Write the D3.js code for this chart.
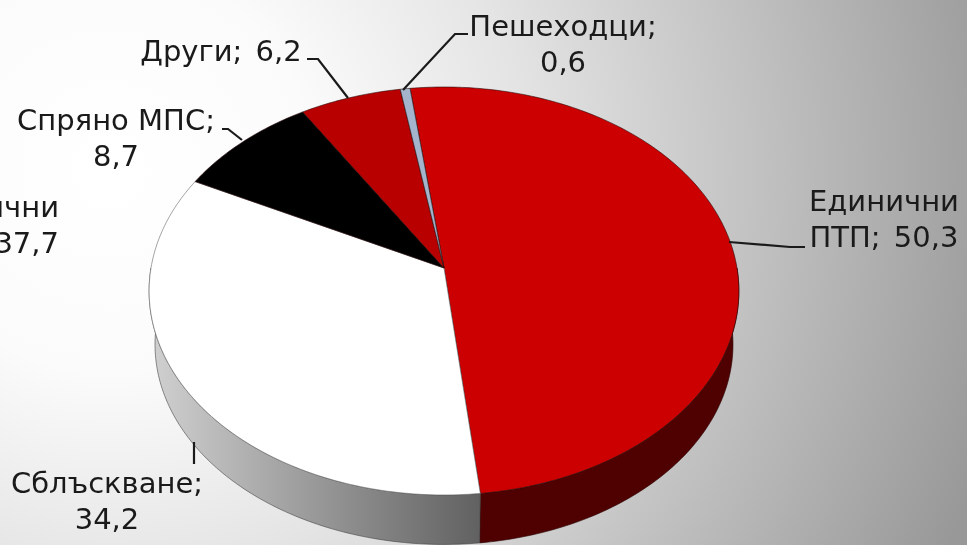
<!DOCTYPE html>
<html><head><meta charset="utf-8">
<script src="https://cdn.jsdelivr.net/npm/d3@7/dist/d3.min.js"></script>
<style>html,body{margin:0;padding:0;overflow:hidden;background:#fff}svg{display:block}text{filter:blur(.35px)}</style>
</head><body><div id="c"></div>
<script>
// data
const categories = ["Единични ПТП","Сблъскване","Спряно МПС","Други","Пешеходци"];
const values = [50.3,34.2,8.7,6.2,0.6];
const topColors = ["#cc0000","#ffffff","#000000","#b80000","#a3b4cc"];
const labelLines = [["Единични","ПТП; 50,3"],["Сблъскване;","34,2"],["Спряно МПС;","8,7"],["Други; 6,2"],["Пешеходци;","0,6"]];
const croppedLabel = ["ични","37,7"];

// layout
const W=967,H=545;
const labelAnchors=[[884,211],[107,493],[116,130],[221,61],[563,36]];
const leaders=[
 [[729,242],[790,247],[805,247]],
 [[194,442],[194,464]],
 [[242,140],[228,129],[222,129]],
 [[348,98],[318,59],[307,59]],
 [[403,90],[455,34],[468,34]]
];
const k=0.1127, Ax=293, Ay=201.4, apex=[444,268];
const lowerScale=0.98, lowerY=322;
const startDeg=-7.4;

const svg=d3.select("#c").append("svg").attr("width",W).attr("height",H).attr("font-family","'DejaVu Sans',sans-serif");
const defs=svg.append("defs");
const bg=defs.append("radialGradient").attr("id","bg").attr("gradientUnits","userSpaceOnUse")
 .attr("cx",110).attr("cy",170).attr("r",920);
[[0,"#ffffff"],[0.22,"#fbfbfb"],[0.45,"#e4e4e4"],[0.7,"#c2c2c2"],[1,"#989898"]].forEach(s=>bg.append("stop").attr("offset",s[0]).attr("stop-color",s[1]));
const sideG=defs.append("linearGradient").attr("id","side").attr("gradientUnits","userSpaceOnUse")
 .attr("x1",155).attr("x2",483).attr("y1",0).attr("y2",0);
sideG.append("stop").attr("offset",0).attr("stop-color","#cfcfcf");
sideG.append("stop").attr("offset",1).attr("stop-color","#606060");

svg.append("rect").attr("width",W).attr("height",H).attr("fill","url(#bg)");

const pie=d3.pie().sort(null).value(d=>d)
 .startAngle(startDeg*Math.PI/180).endAngle((startDeg+360)*Math.PI/180);
const arcs=pie(values);

const project=(t,s=1,y0=apex[1])=>{
 const w=1+k*Math.cos(t);
 return [apex[0]+s*Ax*Math.sin(t)/w, y0-s*Ay*Math.cos(t)/w];
};
const line=d3.line();
const samples=(a,b)=>d3.range(0,1.0001,1/Math.max(4,Math.ceil(Math.abs(b-a)*60))).map(f=>a+(b-a)*f);

// side walls
const a0=arcs[0];
const wall=(a,b)=>{
 const ts=samples(a,b);
 return line(ts.map(t=>project(t)).concat(ts.slice().reverse().map(t=>project(t,lowerScale,lowerY))))+"Z";
};
svg.append("path").attr("d",wall(Math.PI/2,a0.endAngle)).attr("fill","#4f0000").attr("stroke","#2a0000").attr("stroke-width",.6);
svg.append("path").attr("d",wall(a0.endAngle,Math.PI*1.5)).attr("fill","url(#side)").attr("stroke","#444").attr("stroke-width",.6);

// top face
svg.append("g").selectAll("path").data(arcs).join("path")
 .attr("d",d=>line([apex].concat(samples(d.startAngle,d.endAngle).map(t=>project(t))))+"Z")
 .attr("fill",(d,i)=>topColors[i])
 .attr("stroke",(d,i)=>i===1?"#666":"#2a0a0a").attr("stroke-width",.6).attr("stroke-linejoin","round");

// leaders
svg.append("g").selectAll("path").data(leaders).join("path")
 .attr("d",d=>line(d)).attr("fill","none").attr("stroke","#1a1a1a").attr("stroke-width",2.2);

// labels
const lab=svg.append("g").attr("fill","#1a1a1a").attr("font-size",29);
labelLines.forEach((ls,i)=>{
 ls.forEach((t,j)=>lab.append("text").attr("x",labelAnchors[i][0]).attr("y",labelAnchors[i][1]+j*36)
  .attr("text-anchor","middle").attr("word-spacing",t.includes("; ")?4:0).text(t));
});
croppedLabel.forEach((t,j)=>lab.append("text").attr("x",59).attr("y",217+j*36).attr("text-anchor","end").text(t));
</script></body></html>
